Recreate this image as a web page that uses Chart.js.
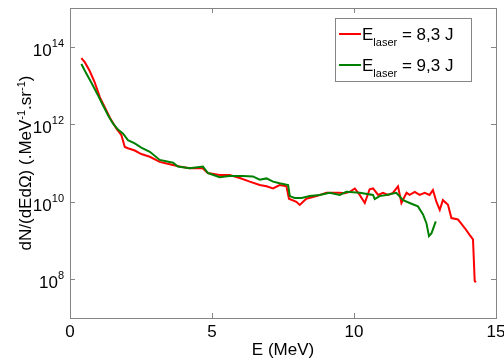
<!DOCTYPE html>
<html>
<head>
<meta charset="utf-8">
<script src="https://cdn.jsdelivr.net/npm/chart.js@4"></script>
<style>
  html, body { margin: 0; padding: 0; background: #fff; }
  canvas { display: block; }
</style>
</head>
<body>
<canvas id="spectrumChart" width="504" height="362"></canvas>
<script>
// Energy (MeV) and dN/(dE dOmega)
const energyRed = [0.40, 0.52, 0.69, 0.87, 1.05, 1.22, 1.40, 1.63, 1.81, 1.93, 2.04, 2.28, 2.51, 2.81,
    3.16, 3.62, 3.86, 4.21, 4.67, 4.85, 5.27, 5.62, 5.98, 6.33, 6.68, 6.92, 7.15, 7.38, 7.62, 7.71,
    7.97, 8.09, 8.32, 8.68, 9.03, 9.50, 9.67, 9.85, 10.03, 10.20, 10.38, 10.55, 10.67, 10.85, 11.02,
    11.20, 11.37, 11.55, 11.67, 11.85, 11.96, 12.14, 12.31, 12.49, 12.66, 12.78, 12.90, 13.02, 13.13,
    13.31, 13.43, 13.66, 13.90, 14.07, 14.19, 14.25, 14.29];
const fluxRed = [5.1e13, 4.0e13, 2.4e13, 1.2e13, 5.0e12, 2.8e12, 1.5e12, 7.8e11, 5.2e11, 2.6e11, 2.4e11, 2.1e11, 1.7e11, 1.45e11,
    1.07e11, 8.9e10, 8.1e10, 7.3e10, 7.3e10, 5.5e10, 4.9e10, 4.9e10, 4.1e10, 3.3e10, 2.7e10, 2.5e10, 2.2e10, 2.7e10, 2.5e10, 1.2e10,
    1.0e10, 8.3e9, 1.2e10, 1.4e10, 1.7e10, 1.7e10, 1.66e10, 1.8e10, 2.2e10, 1.5e10, 9.3e9, 2.1e10, 2.2e10, 1.5e10, 1.7e10,
    1.5e10, 1.7e10, 2.5e10, 9.3e9, 1.7e10, 1.5e10, 1.8e10, 1.5e10, 1.7e10, 1.5e10, 2.0e10, 1.0e10, 6.2e9, 1.1e10,
    8.3e9, 3.8e9, 3.5e9, 2.1e9, 1.4e9, 1.07e9, 9.1e7, 8.3e7];

const energyGreen = [0.40, 0.58, 0.75, 0.99, 1.16, 1.34, 1.51, 1.69, 1.87, 2.04, 2.28, 2.51, 2.81, 3.16,
    3.63, 3.80, 4.21, 4.68, 4.86, 5.27, 5.62, 6.09, 6.44, 6.68, 6.92, 7.15, 7.38, 7.68, 7.74, 7.91,
    8.15, 8.44, 8.79, 9.14, 9.50, 9.73, 10.20, 10.67, 10.73, 10.90, 11.14, 11.49, 11.73, 11.96, 12.25,
    12.43, 12.55, 12.64, 12.73, 12.88];
const fluxGreen = [3.6e13, 2.0e13, 1.2e13, 5.5e12, 3.1e12, 1.7e12, 1.05e12, 7.3e11, 5.7e11, 3.9e11, 3.2e11, 2.5e11, 1.95e11, 1.2e11,
    1.02e11, 8.1e10, 7.3e10, 8.1e10, 5.5e10, 4.3e10, 4.6e10, 4.6e10, 4.5e10, 3.7e10, 4.0e10, 3.3e10, 3.0e10, 2.7e10, 1.4e10, 1.25e10,
    1.25e10, 1.4e10, 1.5e10, 1.7e10, 1.5e10, 1.8e10, 1.7e10, 1.5e10, 1.17e10, 1.4e10, 1.5e10, 1.7e10, 1.1e10, 9.3e9, 7.6e9,
    4.7e9, 2.8e9, 1.3e9, 1.55e9, 3.1e9];

const xTicks = [0, 5, 10, 15];
const yTickExps = [8, 10, 12, 14];
const legendValues = ['= 8,3 J', '= 9,3 J'];
const seriesColors = ['#ff0000', '#008000'];

const FONT = '"Liberation Sans", Arial, sans-serif';
const AXIS_COLOR = '#858585';

function toPoints(xs, ys) {
    return xs.map((x, i) => ({ x: x, y: ys[i] }));
}

// draws text pieces in sequence; sup/sub pieces are smaller and shifted
function drawRich(ctx, parts, x, y) {
    let cx = x;
    parts.forEach(p => {
        ctx.font = (p.small ? 11 : 17) + 'px ' + FONT;
        ctx.fillText(p.t, cx, y + (p.dy || 0));
        cx += ctx.measureText(p.t).width;
    });
    return cx - x;
}

function richWidth(ctx, parts) {
    let w = 0;
    parts.forEach(p => {
        ctx.font = (p.small ? 11 : 17) + 'px ' + FONT;
        w += ctx.measureText(p.t).width;
    });
    return w;
}

const matlabAxes = {
    id: 'matlabAxes',
    afterDraw(chart) {
        const ctx = chart.ctx;
        const area = chart.chartArea;
        const xs = chart.scales.x;
        const ys = chart.scales.y;
        ctx.save();

        // box
        ctx.strokeStyle = AXIS_COLOR;
        ctx.lineWidth = 1;
        ctx.strokeRect(Math.round(area.left) + 0.5, Math.round(area.top) + 0.5,
            Math.round(area.right - area.left), Math.round(area.bottom - area.top));

        // inward ticks
        const tl = 5;
        ctx.beginPath();
        xTicks.forEach(v => {
            const px = Math.round(xs.getPixelForValue(v)) + 0.5;
            ctx.moveTo(px, area.bottom); ctx.lineTo(px, area.bottom - tl);
            ctx.moveTo(px, area.top); ctx.lineTo(px, area.top + tl);
        });
        yTickExps.forEach(e => {
            const py = Math.round(ys.getPixelForValue(Math.pow(10, e))) + 0.5;
            ctx.moveTo(area.left, py); ctx.lineTo(area.left + tl, py);
            ctx.moveTo(area.right, py); ctx.lineTo(area.right - tl, py);
        });
        ctx.stroke();

        ctx.fillStyle = '#000';
        ctx.textBaseline = 'alphabetic';

        // x tick labels
        ctx.font = '17px ' + FONT;
        ctx.textAlign = 'center';
        xTicks.forEach(v => {
            ctx.fillText(String(v), xs.getPixelForValue(v), area.bottom + 19);
        });

        // y tick labels 10^n
        ctx.textAlign = 'left';
        yTickExps.forEach(e => {
            const py = ys.getPixelForValue(Math.pow(10, e));
            const parts = [{ t: '10' }, { t: String(e), small: true, dy: -9 }];
            const w = richWidth(ctx, parts);
            drawRich(ctx, parts, area.left - 6 - w, py + 9);
        });

        // x title
        ctx.font = '17px ' + FONT;
        ctx.textAlign = 'center';
        ctx.fillText('E (MeV)', (area.left + area.right) / 2, 355);

        // y title
        const yParts = [{ t: 'dN/(dEd\u03A9) (.MeV' }, { t: '-1', small: true, dy: -6 },
            { t: '.sr' }, { t: '-1', small: true, dy: -6 }, { t: ')' }];
        ctx.save();
        ctx.translate(31, (area.top + area.bottom) / 2);
        ctx.rotate(-Math.PI / 2);
        ctx.textAlign = 'left';
        const yw = richWidth(ctx, yParts);
        drawRich(ctx, yParts, -yw / 2, 0);
        ctx.restore();

        // legend
        ctx.fillStyle = '#fff';
        ctx.fillRect(335, 18, 137, 64);
        ctx.strokeStyle = AXIS_COLOR;
        ctx.strokeRect(335.5, 18.5, 136, 63);
        ctx.textAlign = 'left';
        legendValues.forEach((val, i) => {
            const ly = 34 + i * 31;
            ctx.strokeStyle = seriesColors[i];
            ctx.lineWidth = 2;
            ctx.beginPath();
            ctx.moveTo(339, ly); ctx.lineTo(361, ly);
            ctx.stroke();
            ctx.fillStyle = '#000';
            drawRich(ctx, [{ t: 'E' }, { t: 'laser', small: true, dy: 6 }, { t: ' ' + val }], 362, ly + 6);
        });

        ctx.restore();
    }
};

new Chart(document.getElementById('spectrumChart'), {
    type: 'line',
    data: {
        datasets: [{
            label: 'E laser = 8,3 J',
            data: toPoints(energyRed, fluxRed),
            borderColor: seriesColors[0],
            borderWidth: 2,
            pointRadius: 0,
            tension: 0,
            order: 1
        }, {
            label: 'E laser = 9,3 J',
            data: toPoints(energyGreen, fluxGreen),
            borderColor: seriesColors[1],
            borderWidth: 2,
            pointRadius: 0,
            tension: 0,
            order: 0
        }]
    },
    options: {
        responsive: false,
        animation: false,
        layout: { padding: { left: 70, right: 8, top: 8, bottom: 44 } },
        plugins: {
            legend: { display: false },
            tooltip: { enabled: false }
        },
        scales: {
            x: { type: 'linear', min: 0, max: 15, display: false },
            y: { type: 'logarithmic', min: 1e7, max: 1e15, display: false }
        }
    },
    plugins: [matlabAxes]
});
</script>
</body>
</html>
